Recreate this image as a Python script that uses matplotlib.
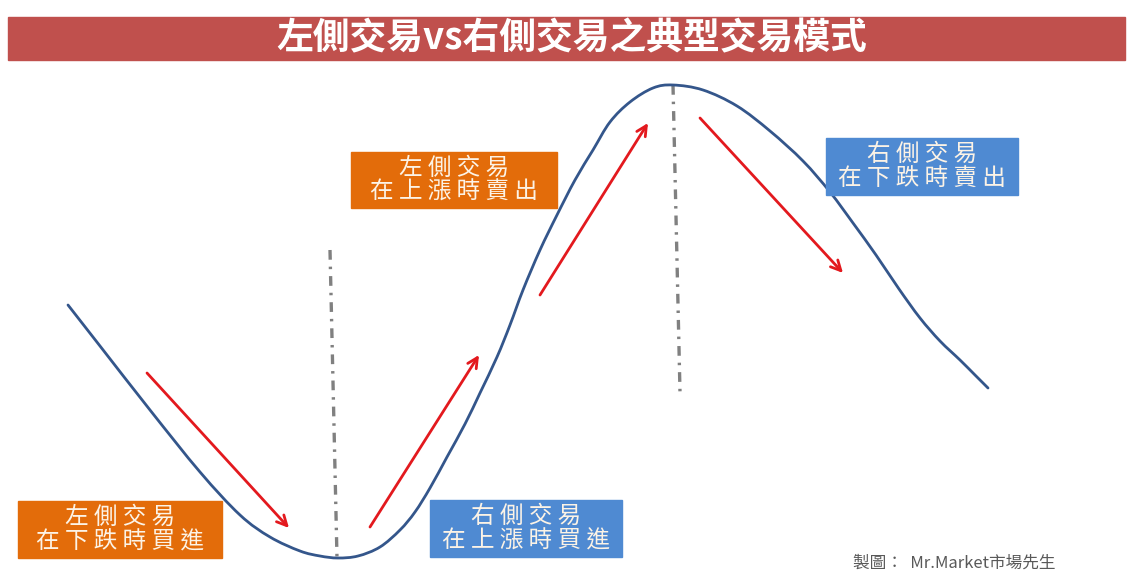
import matplotlib
matplotlib.use("Agg")
import matplotlib.pyplot as plt
from matplotlib.patches import Rectangle, PathPatch
from matplotlib.path import Path

plt.rcParams['font.family'] = ['Noto Sans CJK TC', 'DejaVu Sans']
plt.rcParams['lines.scale_dashes'] = False

# price curve (pixel coords, y down)
curve_x = [68, 100, 150, 200, 240, 270, 300, 320, 338, 358, 380, 400, 415, 430,
           447, 465, 480, 497, 510, 523, 540, 557, 575, 593, 610, 630, 653, 673,
           703, 737, 770, 803, 830, 853, 876, 899, 920, 940, 960, 975, 988]
curve_y = [305, 346, 410, 472, 515, 537, 551, 556, 558, 556, 547, 530, 512, 488,
           457, 424, 393, 357, 325, 290, 250, 215, 180, 150, 122, 102, 88, 85,
           90, 106, 131, 161, 192, 223, 255, 289, 318, 341, 360, 375, 388]

# red arrows: start -> tip
arrow_x0 = [147, 370, 540, 700]
arrow_y0 = [373, 527, 295, 118]
arrow_x1 = [289, 479, 648, 843]
arrow_y1 = [528, 355, 123, 273]

# dash-dot turning lines
turn_x0 = [330, 673]
turn_x1 = [337, 680]
turn_y0 = [250, 85]
turn_y1 = [558, 392]

title = '左側交易vs右側交易之典型交易模式'
labels = [('左側交易', '在下跌時買進'),
          ('右側交易', '在上漲時買進'),
          ('左側交易', '在上漲時賣出'),
          ('右側交易', '在下跌時賣出')]
footer = '製圖：  Mr.Market市場先生'

orange = '#E36C0A'
blue = '#4F8AD2'


def spaced(s):
    return ' '.join(s)


def smooth_path(xs, ys):
    """smoothed line like office charts: catmull-rom turned into bezier segments"""
    pts = list(zip(xs, ys))
    verts = [pts[0]]
    codes = [Path.MOVETO]
    n = len(pts)
    for i in range(n - 1):
        p0 = pts[i - 1] if i > 0 else pts[i]
        p1 = pts[i]
        p2 = pts[i + 1]
        p3 = pts[i + 2] if i + 2 < n else pts[i + 1]
        c1 = (p1[0] + (p2[0] - p0[0]) / 6, p1[1] + (p2[1] - p0[1]) / 6)
        c2 = (p2[0] - (p3[0] - p1[0]) / 6, p2[1] - (p3[1] - p1[1]) / 6)
        verts += [c1, c2, p2]
        codes += [Path.CURVE4] * 3
    return Path(verts, codes)


def main():
    fig = plt.figure(figsize=(11.31, 5.70), dpi=100)
    ax = fig.add_axes([0, 0, 1, 1])
    ax.set_xlim(0, 1131)
    ax.set_ylim(570, 0)
    ax.axis('off')

    # title bar
    ax.add_patch(Rectangle((8, 17), 1117, 43, color='#C0504D', zorder=1))
    ax.text(572, 39, title, color='white', fontsize=26.5, fontweight='bold',
            ha='center', va='center', zorder=2)

    ax.add_patch(PathPatch(smooth_path(curve_x, curve_y), facecolor='none',
                           edgecolor='#34568B', lw=2.0, capstyle='round', zorder=3))

    for i in range(len(turn_x0)):
        ax.plot([turn_x0[i], turn_x1[i]], [turn_y0[i], turn_y1[i]], color='#808080',
                lw=2.4, linestyle=(0, (7, 5, 1.8, 5)), zorder=2)

    for i in range(len(arrow_x0)):
        ax.annotate('', xy=(arrow_x1[i], arrow_y1[i]), xytext=(arrow_x0[i], arrow_y0[i]),
                    arrowprops=dict(arrowstyle='->', color='#E3191E', lw=2.0,
                                    mutation_scale=18, shrinkA=0, shrinkB=0),
                    zorder=4)

    # boxes: x, y, w, h, colour
    boxes = [(18, 501, 204, 57, orange),
             (430, 500, 192, 57, blue),
             (351, 152, 206, 56, orange),
             (826, 138, 192, 57, blue)]
    for (bx, by, bw, bh, c), (l1, l2) in zip(boxes, labels):
        ax.add_patch(Rectangle((bx, by), bw, bh, color=c, zorder=5))
        cx = bx + bw / 2
        ax.text(cx, by + bh * 0.29, spaced(l1), color='#FCF3E6', fontsize=17,
                fontweight='light', ha='center', va='center', zorder=6)
        ax.text(cx, by + bh * 0.72, spaced(l2), color='#FCF3E6', fontsize=17,
                fontweight='light', ha='center', va='center', zorder=6)

    ax.text(853, 563, footer, color='#595959', fontsize=12, ha='left', va='center')

    fig.savefig('out.png', dpi=100, facecolor='white')


if __name__ == "__main__":
    main()
